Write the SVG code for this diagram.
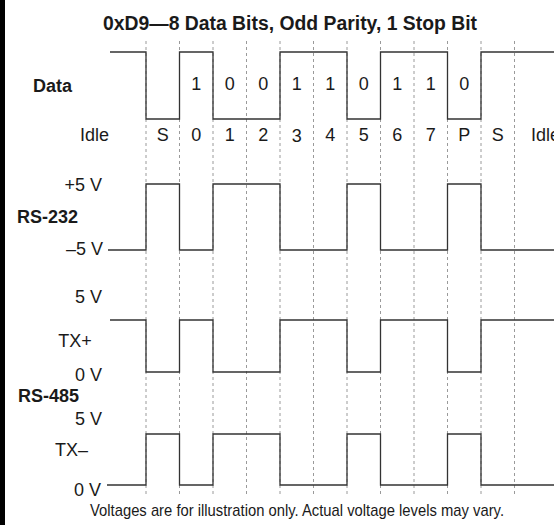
<svg xmlns="http://www.w3.org/2000/svg" width="554" height="525" viewBox="0 0 554 525">
<style>
text{font-family:"Liberation Sans",Arial,Helvetica,sans-serif;fill:#1a1a1a}
.lb{font-size:18px}
.bd{font-size:18px;font-weight:bold}
.c{text-anchor:middle}
.e{text-anchor:end}
.grid line{stroke:#9a9a9a;stroke-width:1;stroke-dasharray:3 3}
.wave{fill:none;stroke:#333;stroke-width:1.3}
</style>
<rect x="0" y="0" width="554" height="525" fill="#fff"/>
<rect x="0" y="0" width="5" height="525" fill="#000"/>
<g id="grid" class="grid">
<line x1="146" y1="41" x2="146" y2="497"/>
<line x1="179.5" y1="41" x2="179.5" y2="497"/>
<line x1="213" y1="41" x2="213" y2="497"/>
<line x1="246.5" y1="41" x2="246.5" y2="497"/>
<line x1="280" y1="41" x2="280" y2="497"/>
<line x1="313.5" y1="41" x2="313.5" y2="497"/>
<line x1="347" y1="41" x2="347" y2="497"/>
<line x1="380.5" y1="41" x2="380.5" y2="497"/>
<line x1="414" y1="41" x2="414" y2="497"/>
<line x1="447.5" y1="41" x2="447.5" y2="497"/>
<line x1="481" y1="41" x2="481" y2="497"/>
<line x1="514.5" y1="41" x2="514.5" y2="497"/>
</g>
<g id="title"><text x="290" y="30" class="c" style="font-size:20px;font-weight:bold" textLength="374" lengthAdjust="spacingAndGlyphs">0xD9—8 Data Bits, Odd Parity, 1 Stop Bit</text></g>
<g id="data">
<text x="33" y="92" class="bd">Data</text>
<path class="wave" d="M110,52 H146 V119 H179.5 V52 H213 V119 H280 V52 H347 V119 H380.5 V52 H447.5 V119 H481 V52 H554"/>
<g class="lb c">
<text x="196.25" y="90">1</text>
<text x="229.75" y="90">0</text>
<text x="263.25" y="90">0</text>
<text x="296.75" y="90">1</text>
<text x="330.25" y="90">1</text>
<text x="363.75" y="90">0</text>
<text x="397.25" y="90">1</text>
<text x="430.75" y="90">1</text>
<text x="464.25" y="90">0</text>
</g>
</g>
<g id="bits" class="lb c">
<text x="109" y="141" class="e">Idle</text>
<text x="162.75" y="141">S</text>
<text x="196.25" y="141">0</text>
<text x="229.75" y="141">1</text>
<text x="263.25" y="141">2</text>
<text x="296.75" y="142">3</text>
<text x="330.25" y="141">4</text>
<text x="363.75" y="141">5</text>
<text x="397.25" y="141">6</text>
<text x="430.75" y="141">7</text>
<text x="464.25" y="141">P</text>
<text x="497.75" y="141">S</text>
<text x="531" y="141" style="text-anchor:start">Idle</text>
</g>
<g id="rs232">
<text x="102" y="191" class="lb e">+5 V</text>
<text x="17" y="223" class="bd">RS-232</text>
<text x="103" y="255" class="lb e">–5 V</text>
<path class="wave" d="M108,250 H146 V184 H179.5 V250 H213 V184 H280 V250 H347 V184 H380.5 V250 H447.5 V184 H481 V250 H554"/>
</g>
<g id="txplus">
<text x="102" y="303" class="lb e">5 V</text>
<text x="75" y="347" class="lb c">TX+</text>
<text x="102" y="381" class="lb e">0 V</text>
<path class="wave" d="M110,320 H146 V372 H179.5 V320 H213 V372 H280 V320 H347 V372 H380.5 V320 H447.5 V372 H481 V320 H554"/>
</g>
<g id="rs485label"><text x="18" y="402" class="bd">RS-485</text></g>
<g id="txminus">
<text x="102" y="425" class="lb e">5 V</text>
<text x="55" y="456" class="lb">TX–</text>
<text x="101" y="496" class="lb e">0 V</text>
<path class="wave" d="M107,485 H146 V434 H179.5 V485 H213 V434 H280 V485 H347 V434 H380.5 V485 H447.5 V434 H481 V485 H554"/>
</g>
<g id="note"><text x="297" y="516" class="c" style="font-size:17px" textLength="414" lengthAdjust="spacingAndGlyphs">Voltages are for illustration only. Actual voltage levels may vary.</text></g>
</svg>
